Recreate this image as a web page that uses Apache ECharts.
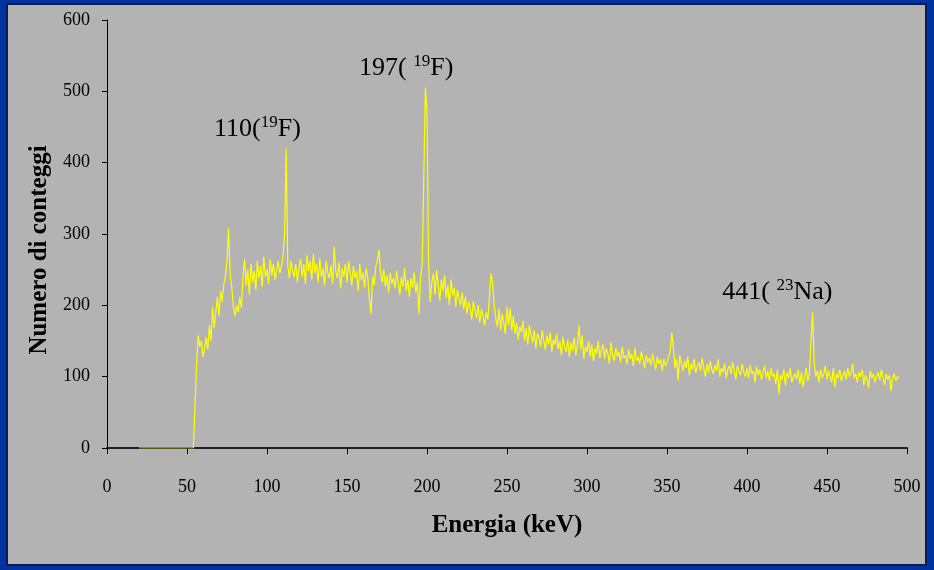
<!DOCTYPE html>
<html>
<head>
<meta charset="utf-8">
<script src="https://cdn.jsdelivr.net/npm/echarts@6/dist/echarts.min.js"></script>
<style>
  html, body { margin: 0; padding: 0; background: #0033a0; }
  #chart { width: 934px; height: 570px; }
</style>
</head>
<body>
<div id="chart"></div>
<script>
// spettro: conteggi per canale da 1 keV, a partire da 20 keV
var startEnergy = 20
var counts = [
  0, 0, 0, 0, 0, 0, 0, 0, 0, 0,
  0, 0, 0, 0, 0, 0, 0, 0, 0, 0,
  0, 0, 0, 0, 0, 0, 0, 0, 0, 0,
  0, 0, 0, 0, 0, 0,
  118, 158, 142, 150,
  128, 140, 155, 138, 172, 150, 198, 168, 190, 212,
  185, 220, 205, 230, 240, 262, 308, 242, 225, 198,
  185, 200, 190, 212, 196, 240, 265, 228, 250, 215,
  258, 232, 248, 222, 262, 238, 255, 226, 268, 240,
  250, 230, 265, 242, 258, 236, 248, 262, 245, 255,
  268, 300, 420, 255, 238, 262, 248, 240, 258, 232,
  252, 265, 240, 258, 230, 270, 248, 262, 236, 272,
  245, 258, 232, 266, 240, 252, 228, 262, 245, 238,
  256, 230, 282, 248, 238, 260, 224, 252, 240, 258,
  232, 262, 245, 228, 255, 238, 248, 220, 258, 235,
  246, 225, 252, 238, 210, 188, 240, 228, 255, 262,
  278, 245, 232, 250, 226, 242, 218, 246, 230, 238,
  224, 248, 232, 215, 240, 226, 252, 220, 236, 212,
  238, 225, 246, 218, 232, 188, 240, 258, 380, 505,
  470, 260, 205, 232, 245, 215, 250, 228, 206, 236,
  220, 242, 210, 228, 200, 236, 214, 225, 198, 222,
  210, 200, 218, 195, 212, 188, 205, 196, 180, 206,
  192, 182, 200, 176, 195, 185, 172, 190, 180, 210,
  245, 232, 200, 182, 170, 195, 165, 188, 175, 160,
  198, 172, 196, 165, 185, 160, 175, 152, 170, 162,
  178, 150, 168, 145, 172, 158, 148, 165, 140, 160,
  155, 142, 165, 150, 138, 158, 145, 162, 135, 152,
  145, 160, 138, 150, 130, 156, 142, 135, 152, 128,
  148, 136, 155, 130, 145, 172, 138, 158, 125, 142,
  135, 150, 128, 145, 122, 140, 132, 150, 126, 138,
  145, 125, 140, 132, 118, 148, 130, 122, 140, 128,
  135, 120, 142, 126, 130, 118, 138, 125, 132, 115,
  140, 122, 128, 118, 135, 124, 112, 130, 120, 126,
  116, 132, 120, 110, 128, 118, 124, 108, 125, 115,
  120, 128, 135, 162, 140, 112, 125, 95, 130, 118,
  108, 122, 112, 128, 102, 118, 110, 125, 105, 115,
  120, 108, 126, 112, 100, 118, 106, 122, 110, 104,
  116, 108, 124, 100, 112, 106, 118, 98, 110, 115,
  104, 120, 110, 96, 115, 108, 102, 118, 106, 100,
  112, 98, 116, 104, 108, 92, 114, 102, 110, 96,
  106, 115, 98, 108, 94, 112, 100, 104, 90, 110,
  75, 102, 96, 110, 88, 106, 98, 112, 92, 100,
  104, 96, 110, 90, 106, 85, 100, 112, 94, 104,
  150, 190, 120, 100, 108, 92, 110, 98, 104, 115,
  96, 108, 100, 92, 112, 85, 104, 98, 110, 94,
  102, 108, 96, 112, 100, 105, 118, 98, 104, 92,
  106, 100, 110, 88, 102, 96, 84, 108, 98, 104,
  92, 100, 106, 95, 110, 98, 88, 104, 96, 102,
  80, 98, 104, 94, 100, 98
]

// etichette dei picchi
var peakEnergy = ['110', '197', '441']
var peakIsotope = [['19', 'F'], ['19', 'F'], ['23', 'Na']]
var peakGap = ['', ' ', ' ']

var chart = echarts.init(document.getElementById('chart'))

var seriesData = counts.map(function (c, i) {
  return [startEnergy + i, c]
})

// posizione del testo (in unita' dei dati)
var labelAt = [[94, 447], [187, 532], [419, 219]]

var markData = peakEnergy.map(function (e, i) {
  return {
    coord: labelAt[i],
    label: {
      formatter: '{a|' + e + '(' + peakGap[i] + '}{b|' + peakIsotope[i][0] + '}{a|' + peakIsotope[i][1] + ')}'
    }
  }
})

var serif = '"Liberation Serif", "Times New Roman", serif'

chart.setOption({
  backgroundColor: '#0033a0',
  animation: false,
  graphic: [
    {
      type: 'rect',
      z: -10,
      shape: { x: 7, y: 4, width: 919, height: 561 },
      style: { fill: '#b3b3b3', stroke: '#0b1c55', lineWidth: 2 }
    }
  ],
  grid: {
    left: 107,
    right: 27,
    top: 20,
    bottom: 122
  },
  xAxis: {
    type: 'value',
    min: 0,
    max: 500,
    interval: 50,
    name: 'Energia (keV)',
    nameLocation: 'middle',
    nameGap: 65,
    nameTextStyle: { fontFamily: serif, fontWeight: 'bold', fontSize: 25, color: '#000' },
    axisLine: { lineStyle: { color: '#222', width: 2 } },
    axisTick: { show: true, inside: false, length: 6, lineStyle: { color: '#000' } },
    axisLabel: { margin: 30, fontFamily: serif, fontSize: 18, color: '#000' },
    splitLine: { show: false }
  },
  yAxis: {
    type: 'value',
    min: 0,
    max: 600,
    interval: 100,
    name: 'Numero di conteggi',
    nameLocation: 'middle',
    nameGap: 55,
    nameTextStyle: { fontFamily: serif, fontWeight: 'bold', fontSize: 25, color: '#000', padding: [0, 32, 0, 0] },
    axisLine: { show: true, lineStyle: { color: '#000', width: 1 } },
    axisTick: { show: true, inside: false, length: 5, lineStyle: { color: '#000' } },
    axisLabel: { margin: 17, fontFamily: serif, fontSize: 18, color: '#000' },
    splitLine: { show: false }
  },
  series: [
    {
      type: 'line',
      data: seriesData,
      showSymbol: false,
      symbol: 'none',
      lineStyle: { color: '#ffff00', width: 1.2 },
      z: 5,
      markPoint: {
        symbol: 'circle',
        symbolSize: 1,
        itemStyle: { color: 'rgba(0,0,0,0)' },
        label: {
          show: true,
          position: 'inside',
          rich: {
            a: { fontFamily: serif, fontSize: 26, color: '#000', lineHeight: 30 },
            b: { fontFamily: serif, fontSize: 17, color: '#000', lineHeight: 18, verticalAlign: 'top' }
          }
        },
        data: markData
      }
    }
  ]
})
</script>
</body>
</html>
